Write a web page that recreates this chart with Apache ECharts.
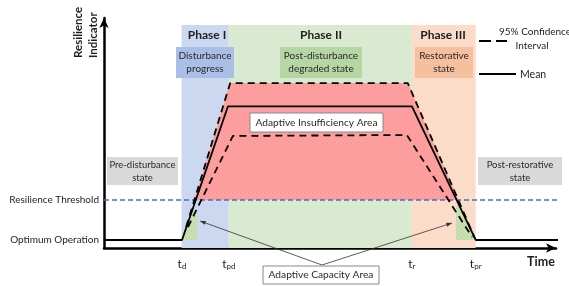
<!DOCTYPE html>
<html>
<head>
<meta charset="utf-8">
<script src="https://cdn.jsdelivr.net/npm/echarts@6/dist/echarts.min.js"></script>
<style>
html, body { margin: 0; padding: 0; background: #fff; }
#main { width: 569px; height: 286px; }
</style>
</head>
<body>
<div id="main"></div>
<script>
// time marks on the x scale and resilience levels on the y scale
var tickNames = ['d', 'pd', 'r', 'pr'];
var tickTimes = [17.0, 27.2, 67.1, 81.0];
var levelNames = ['Optimum Operation', 'Resilience Threshold'];
var levelValues = [3.4, 20.3];

// phases
var phaseNames = ['Phase I', 'Phase II', 'Phase III'];
var phaseStart = [16.9, 27.2, 67.1];
var phaseEnd = [27.2, 67.1, 81.0];
var phaseTop = 94.5;

// mean curve and 95% confidence bounds
var meanX = [0, 17.0, 27.0, 67.1, 81.0, 99.8];
var meanY = [3.4, 3.4, 60.0, 60.0, 3.4, 3.4];
var upperX = [17.9, 27.5, 66.2, 80.8];
var upperY = [8.9, 69.9, 69.9, 4.2];
var lowerX = [18.3, 28.1, 66.0, 80.2];
var lowerY = [8.9, 47.5, 47.9, 4.7];

// adaptive capacity patches (below threshold)
var capLeftX = [17.0, 20.3, 20.3, 19.2];
var capLeftY = [3.4, 3.4, 16.1, 16.1];
var capRightX = [76.7, 81.0, 77.5, 76.7];
var capRightY = [3.4, 3.4, 17.9, 17.9];

function zip(xs, ys) {
  return xs.map(function (x, i) { return [x, ys[i]]; });
}
// x where segment crosses level y
function crossAt(xs, ys, i, y) {
  return xs[i] + (y - ys[i]) * (xs[i + 1] - xs[i]) / (ys[i + 1] - ys[i]);
}

var thr = levelValues[1];
var redPts = [[crossAt(upperX, upperY, 0, thr), thr], [upperX[1], upperY[1]],
  [upperX[2], upperY[2]], [crossAt(upperX, upperY, 2, thr), thr]];

function hatch(bg, ln) {
  var c = document.createElement('canvas');
  c.width = 4; c.height = 4;
  var g = c.getContext('2d');
  g.fillStyle = bg; g.fillRect(0, 0, 4, 4);
  g.strokeStyle = ln; g.lineWidth = 0.7;
  g.beginPath(); g.moveTo(0, 0); g.lineTo(4, 4); g.stroke();
  return { image: c, repeat: 'repeat' };
}

var bandColors = ['#cbd8ef', '#d9ead1', '#fbdcc9'];
var font = 'Lato';
var ink = '#1e1e1e';

function polySeries(pts, fill, z) {
  return {
    type: 'custom', z: z, silent: true, clip: false,
    data: [pts[0]],
    renderItem: function (params, api) {
      return { type: 'polygon', shape: { points: pts.map(function (p) { return api.coord(p); }) }, style: { fill: fill } };
    }
  };
}

function box(x, y, w, h, fill, text, size, border) {
  return [
    { type: 'rect', z: 100, shape: { x: x, y: y, width: w, height: h },
      style: { fill: fill, stroke: border || null, lineWidth: border ? 1 : 0 } },
    { type: 'text', z: 101, x: x + w / 2, y: y + h / 2,
      style: { text: text, fill: '#2a2a2a', font: (size || 10) + 'px ' + font, align: 'center', verticalAlign: 'middle', lineHeight: 13 } }
  ];
}

var myChart = echarts.init(document.getElementById('main'));

var series = [];
// phase bands
phaseNames.forEach(function (n, i) {
  series.push(polySeries([[phaseStart[i], 0], [phaseEnd[i], 0], [phaseEnd[i], phaseTop], [phaseStart[i], phaseTop]], bandColors[i], 1));
});
series.push(polySeries(redPts, hatch('#ffa0a0', '#f59393'), 2));
series.push(polySeries(zip(capLeftX, capLeftY), hatch('#c8e0b2', '#b6d39c'), 3));
series.push(polySeries(zip(capRightX, capRightY), hatch('#c8e0b2', '#b6d39c'), 3));
series.push({
  type: 'line', z: 4, symbol: 'none', silent: true, clip: false,
  data: [[0, thr], [99.8, thr]],
  lineStyle: { color: '#4472c4', width: 1.5, type: [5, 3] }
});
series.push({
  type: 'line', z: 5, symbol: 'none', silent: true, clip: false,
  data: zip(upperX, upperY), lineStyle: { color: '#000', width: 1.8, type: [7, 5] }
});
series.push({
  type: 'line', z: 5, symbol: 'none', silent: true, clip: false,
  data: zip(lowerX, lowerY), lineStyle: { color: '#000', width: 1.8, type: [7, 5] }
});
series.push({
  type: 'line', z: 6, symbol: 'none', silent: true, clip: false,
  data: zip(meanX, meanY), lineStyle: { color: '#000', width: 1.8 }
});

var graphic = [];
graphic.push({ type: 'text', z: 101, x: 207, y: 35, style: { text: phaseNames[0], font: 'bold 12px ' + font, fill: ink, align: 'center', verticalAlign: 'middle' } });
graphic.push({ type: 'text', z: 101, x: 321, y: 35, style: { text: phaseNames[1], font: 'bold 12px ' + font, fill: ink, align: 'center', verticalAlign: 'middle' } });
graphic.push({ type: 'text', z: 101, x: 443, y: 35, style: { text: phaseNames[2], font: 'bold 12px ' + font, fill: ink, align: 'center', verticalAlign: 'middle' } });
graphic = graphic.concat(
  box(176, 47, 58, 31, '#a9bfe6', 'Disturbance\nprogress', 10),
  box(280, 47, 82, 31, '#b6d6a4', 'Post-disturbance\ndegraded state', 10),
  box(415, 47, 58, 31, '#f5c09e', 'Restorative\nstate', 10),
  box(107, 157, 71, 28, '#d9d9d9', 'Pre-disturbance\nstate', 9.5),
  box(478, 157, 84, 28, '#d9d9d9', 'Post-restorative\nstate', 9.5),
  box(250, 113, 133, 19, '#fff', 'Adaptive Insufficiency Area', 10.2, '#888'),
  box(263, 266, 116, 18, '#fff', 'Adaptive Capacity Area', 10.2, '#888')
);
// annotation arrows
[[200, 221], [452, 223]].forEach(function (p) {
  var x0 = 322, y0 = 265;
  var a = Math.atan2(p[1] - y0, p[0] - x0);
  graphic.push({ type: 'line', z: 99, shape: { x1: x0, y1: y0, x2: p[0], y2: p[1] }, style: { stroke: '#333', lineWidth: 0.8 } });
  graphic.push({ type: 'polygon', z: 99, shape: { points: [
    [p[0], p[1]],
    [p[0] - 6 * Math.cos(a - 0.35), p[1] - 6 * Math.sin(a - 0.35)],
    [p[0] - 6 * Math.cos(a + 0.35), p[1] - 6 * Math.sin(a + 0.35)]
  ] }, style: { fill: '#333' } });
});
// legend
graphic.push({ type: 'line', z: 101, shape: { x1: 479, y1: 41, x2: 507, y2: 41 }, style: { stroke: '#000', lineWidth: 1.8, lineDash: [12, 5] } });
graphic.push({ type: 'line', z: 101, shape: { x1: 479, y1: 74, x2: 516, y2: 74 }, style: { stroke: '#000', lineWidth: 1.8 } });
graphic.push({ type: 'text', z: 101, x: 499, y: 32, style: { text: '95% Confidence', font: '10px ' + font, fill: ink, align: 'left', verticalAlign: 'middle' } });
graphic.push({ type: 'text', z: 101, x: 532, y: 46, style: { text: 'Interval', font: '10px ' + font, fill: ink, align: 'center', verticalAlign: 'middle' } });
graphic.push({ type: 'text', z: 101, x: 520, y: 75, style: { text: 'Mean', font: '10.5px ' + font, fill: ink, align: 'left', verticalAlign: 'middle' } });
// axis titles
graphic.push({ type: 'text', z: 101, x: 78, y: 58, rotation: Math.PI / 2, style: { text: 'Resilience', font: 'bold 11.5px ' + font, fill: ink, align: 'left', verticalAlign: 'middle' } });
graphic.push({ type: 'text', z: 101, x: 93, y: 58, rotation: Math.PI / 2, style: { text: 'Indicator', font: 'bold 11.5px ' + font, fill: ink, align: 'left', verticalAlign: 'middle' } });
graphic.push({ type: 'text', z: 101, x: 541, y: 262, style: { text: 'Time', font: 'bold 12.5px ' + font, fill: ink, align: 'center', verticalAlign: 'middle' } });

var option = {
  animation: false,
  grid: { left: 104, right: 13, top: 18, bottom: 38 },
  xAxis: {
    type: 'value', min: 0, max: 98.5,
    splitLine: { show: false },
    axisTick: { show: false },
    axisLine: { lineStyle: { color: '#000', width: 2.5 }, symbol: ['none', 'arrow'], symbolSize: [7, 10] },
    axisLabel: {
      customValues: tickTimes, margin: 8, color: ink,
      formatter: function (v) {
        var i = tickTimes.indexOf(v);
        return '{t|t}{s|' + tickNames[i] + '}';
      },
      rich: {
        t: { fontSize: 12, fontFamily: font, lineHeight: 14, verticalAlign: 'bottom' },
        s: { fontSize: 8, fontFamily: font, lineHeight: 6, verticalAlign: 'bottom' }
      }
    }
  },
  yAxis: {
    type: 'value', min: 0, max: 97.5,
    splitLine: { show: false },
    axisTick: { show: false },
    axisLine: { lineStyle: { color: '#000', width: 2.5 }, symbol: ['none', 'arrow'], symbolSize: [7, 10] },
    axisLabel: {
      customValues: levelValues, margin: 5, color: ink, fontSize: 10, fontFamily: font,
      formatter: function (v) { return levelNames[levelValues.indexOf(v)]; }
    }
  },
  series: series,
  graphic: graphic
};
myChart.setOption(option);
</script>
</body>
</html>
